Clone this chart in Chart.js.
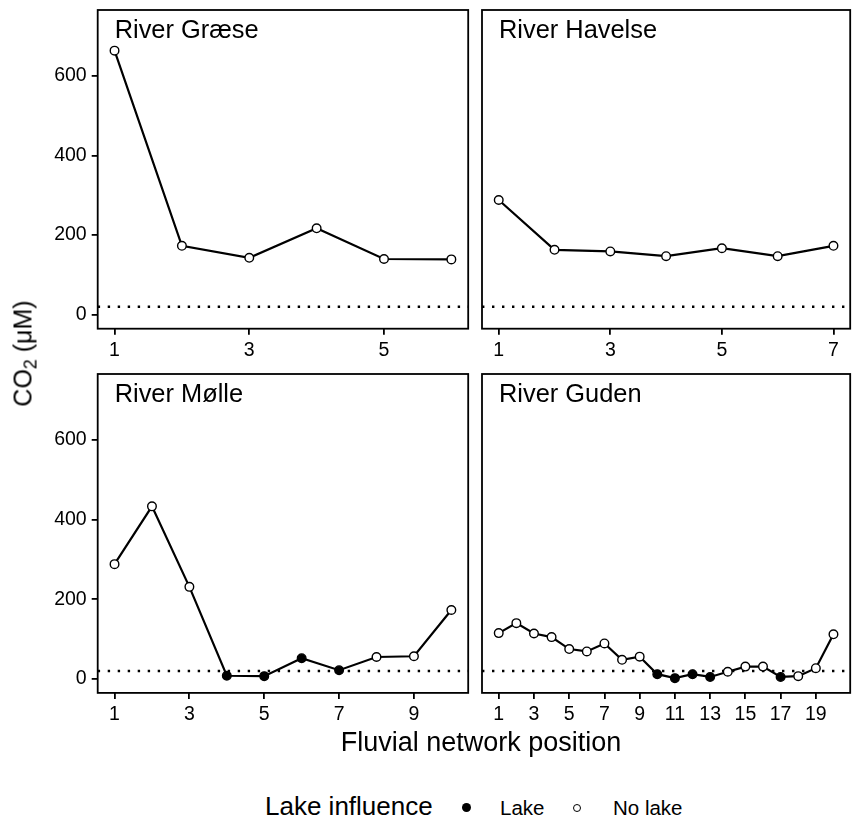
<!DOCTYPE html>
<html>
<head>
<meta charset="utf-8">
<title>CO2 along fluvial networks</title>
<script src="https://cdn.jsdelivr.net/npm/chart.js@4.4.0/dist/chart.umd.min.js"></script>
<style>
  body { margin: 0; background: #fff; }
  #figure { position: relative; width: 852px; height: 830px; overflow: hidden;
            font-family: "Liberation Sans", Arial, sans-serif; color: #000; }
  #figure canvas { position: absolute; }
  .txt { position: absolute; white-space: nowrap; line-height: 1; }
  .dot { position: absolute; border-radius: 50%; box-sizing: border-box; }
</style>
</head>
<body>
<div id="figure">
  <canvas id="graese"></canvas>
  <canvas id="havelse"></canvas>
  <canvas id="molle"></canvas>
  <canvas id="guden"></canvas>

  <div class="txt" id="ytitle" style="font-size:25px; width:200px; height:25px; left:-76.6px; top:340.5px; text-align:center; transform:rotate(-90deg);">CO<sub style="font-size:18px; line-height:0; vertical-align:-5px;">2</sub> (μM)</div>
  <div class="txt" style="font-size:27px; width:600px; left:181px; top:728.8px; text-align:center;">Fluvial network position</div>

  <div class="txt" style="font-size:26px; left:265px; top:793px;">Lake influence</div>
  <div class="dot" style="left:462.3px; top:803px; width:9px; height:9px; background:#000;"></div>
  <div class="txt" style="font-size:20.5px; left:500px; top:797.7px;">Lake</div>
  <div class="dot" style="left:573px; top:803.5px; width:8px; height:8px; background:#fff; border:1.3px solid #000;"></div>
  <div class="txt" style="font-size:20.5px; left:613px; top:797.7px;">No lake</div>
</div>

<script>
// shared y axis
const yMin = -35;
const yMax = 765;
const yTicks = [0, 200, 400, 600];
const co2Threshold = 20;

// River Græse
const graesePos = [1, 2, 3, 4, 5, 6];
const graeseCO2 = [663, 173, 143, 217, 140, 139];
const graeseLake = [0, 0, 0, 0, 0, 0];
const graeseTicks = [1, 3, 5];

// River Havelse
const havelsePos = [1, 2, 3, 4, 5, 6, 7];
const havelseCO2 = [288, 163, 159, 147, 167, 147, 173];
const havelseLake = [0, 0, 0, 0, 0, 0, 0];
const havelseTicks = [1, 3, 5, 7];

// River Mølle
const mollePos = [1, 2, 3, 4, 5, 6, 7, 8, 9, 10];
const molleCO2 = [288, 433, 231, 8, 7, 52, 22, 55, 57, 173];
const molleLake = [0, 0, 0, 1, 1, 1, 1, 0, 0, 0];
const molleTicks = [1, 3, 5, 7, 9];

// River Guden
const gudenPos = [1, 2, 3, 4, 5, 6, 7, 8, 9, 10, 11, 12, 13, 14, 15, 16, 17, 18, 19, 20];
const gudenCO2 = [115, 140, 114, 105, 75, 69, 89, 48, 56, 12, 2, 12, 5, 18, 31, 31, 5, 7, 27, 112];
const gudenLake = [0, 0, 0, 0, 0, 0, 0, 0, 0, 1, 1, 1, 1, 0, 0, 0, 1, 0, 0, 0];
const gudenTicks = [1, 3, 5, 7, 9, 11, 13, 15, 17, 19];

const fontFamily = '"Liberation Sans", Arial, sans-serif';

// frame + facet label, drawn on top like ggplot's panel border
const panelBox = {
    id: 'panelBox',
    afterDraw(chart, args, opts) {
        const a = chart.chartArea;
        const ctx = chart.ctx;
        ctx.save();
        ctx.strokeStyle = '#000';
        ctx.lineWidth = 1.8;
        ctx.strokeRect(a.left, a.top, a.right - a.left, a.bottom - a.top);
        ctx.fillStyle = '#000';
        ctx.font = '25.4px ' + fontFamily;
        ctx.textBaseline = 'alphabetic';
        ctx.fillText(opts.text, a.left + 17, a.top + 27.5);
        ctx.restore();
    }
};

function makePanel(id, area, showY, title, positions, values, lake, xTicks) {
    const canvas = document.getElementById(id);
    const cLeft = showY ? 0 : area.left - 10;
    const cTop = area.top - 20;
    const cWidth = Math.round(area.right + 2 - cLeft);
    const cHeight = Math.round(area.bottom + 40 - cTop);
    canvas.width = cWidth;
    canvas.height = cHeight;
    canvas.style.left = cLeft + 'px';
    canvas.style.top = cTop + 'px';
    canvas.style.width = cWidth + 'px';
    canvas.style.height = cHeight + 'px';

    const n = positions.length;
    const pad = 0.05 * (n - 1);
    const xMin = positions[0] - pad;
    const xMax = positions[n - 1] + pad;

    const points = positions.map(function(p, i) { return { x: p, y: values[i] }; });
    const fills = lake.map(function(l) { return l ? '#000' : '#fff'; });

    return new Chart(canvas, {
        type: 'line',
        data: {
            datasets: [{
                label: title,
                data: points,
                borderColor: '#000',
                borderWidth: 2.2,
                pointRadius: 4.3,
                pointBorderWidth: 1.4,
                pointBorderColor: '#000',
                pointBackgroundColor: fills,
                tension: 0,
                order: 0
            }, {
                label: 'threshold',
                data: [{ x: xMin, y: co2Threshold }, { x: xMax, y: co2Threshold }],
                borderColor: '#000',
                borderWidth: 2.4,
                borderDash: [2.4, 7.6],
                pointRadius: 0,
                order: 1
            }]
        },
        options: {
            responsive: false,
            animation: false,
            layout: {
                autoPadding: false,
                padding: {
                    left: showY ? 0 : area.left - cLeft,
                    top: area.top - cTop,
                    right: cWidth - (area.right - cLeft),
                    bottom: 0
                }
            },
            plugins: {
                legend: { display: false },
                tooltip: { enabled: false },
                panelBox: { text: title }
            },
            scales: {
                x: {
                    type: 'linear',
                    min: xMin,
                    max: xMax,
                    afterBuildTicks: function(axis) {
                        axis.ticks = xTicks.map(function(v) { return { value: v }; });
                    },
                    afterFit: function(axis) {
                        axis.height = cHeight - (area.bottom - cTop);
                        axis.paddingLeft = 0;
                        axis.paddingRight = 0;
                    },
                    grid: { drawOnChartArea: false, drawTicks: true, tickLength: 6, tickColor: '#000', lineWidth: 1.8 },
                    border: { display: false },
                    ticks: { autoSkip: false, maxRotation: 0, padding: 4, color: '#000',
                             font: { family: fontFamily, size: 19.5 } }
                },
                y: {
                    type: 'linear',
                    display: showY,
                    min: yMin,
                    max: yMax,
                    afterBuildTicks: function(axis) {
                        axis.ticks = yTicks.map(function(v) { return { value: v }; });
                    },
                    afterFit: function(axis) {
                        axis.width = showY ? area.left - cLeft : 0;
                        axis.paddingTop = 0;
                        axis.paddingBottom = 0;
                    },
                    grid: { drawOnChartArea: false, drawTicks: true, tickLength: 6, tickColor: '#000', lineWidth: 1.8 },
                    border: { display: false },
                    ticks: { padding: 5, color: '#000', font: { family: fontFamily, size: 19.5 } }
                }
            }
        },
        plugins: [panelBox]
    });
}

document.addEventListener('DOMContentLoaded', function() {
    makePanel('graese', { left: 97.7, top: 9.5, right: 468.2, bottom: 328.2 }, true,
        'River Græse', graesePos, graeseCO2, graeseLake, graeseTicks);
    makePanel('havelse', { left: 482, top: 9.5, right: 850.2, bottom: 328.2 }, false,
        'River Havelse', havelsePos, havelseCO2, havelseLake, havelseTicks);
    makePanel('molle', { left: 97.7, top: 374.3, right: 468.2, bottom: 693.2 }, true,
        'River Mølle', mollePos, molleCO2, molleLake, molleTicks);
    makePanel('guden', { left: 482, top: 374.3, right: 850.2, bottom: 693.2 }, false,
        'River Guden', gudenPos, gudenCO2, gudenLake, gudenTicks);
});
</script>
</body>
</html>
